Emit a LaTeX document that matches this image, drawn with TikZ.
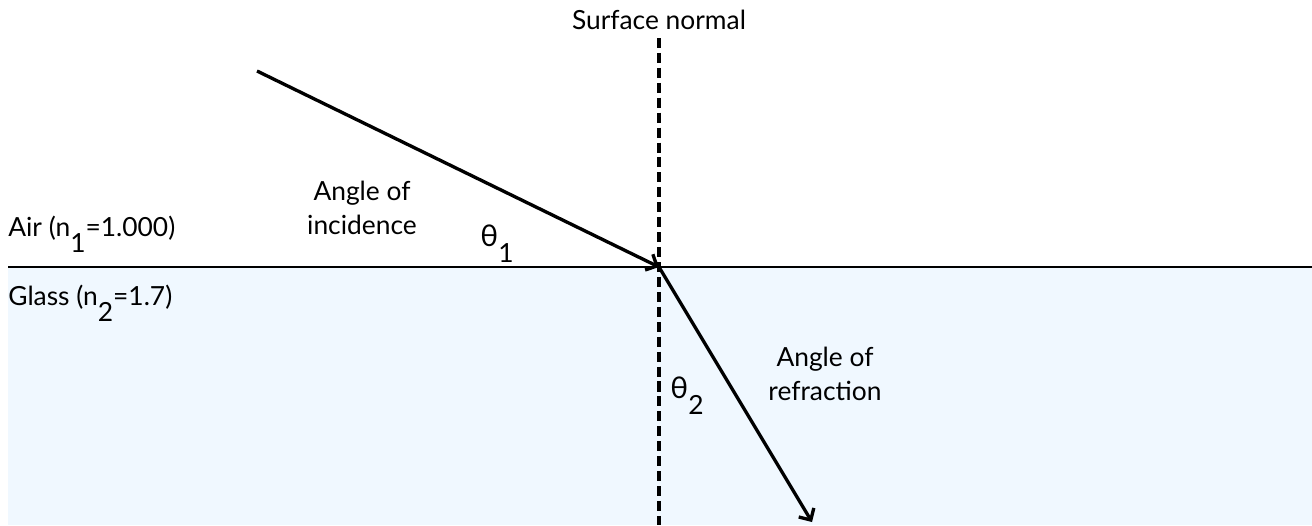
\documentclass[tikz,border=0pt]{standalone}
\usepackage{fontspec}
\setmainfont{Lato}
\usetikzlibrary{positioning,arrows.meta,calc}
\definecolor{glassblue}{RGB}{240,248,255}
\newcommand{\lowidx}[1]{\raisebox{-1.25ex}{#1}}

\begin{document}
\begin{tikzpicture}[
    x=0.02cm, y=-0.02cm,
    ray/.style={line width=1.9pt, -{Straight Barb[length=5pt,width=10pt,line width=1.9pt]}},
    normal/.style={line width=2.2pt, dash pattern=on 5.7pt off 2.8pt},
    lbl/.style={font=\fontsize{15}{19}\selectfont, inner sep=0pt, align=center},
    angle/.style={lbl, font=\fontsize{17}{20}\selectfont, anchor=base},
    >=Stealth
  ]
  \useasboundingbox (0,0) rectangle (1312,525);
  \fill[glassblue] (8,267) rectangle (1312,525);

  \coordinate (hit) at (659,267);
  \coordinate (src) at (257,71);
  \coordinate (dst) at (812,522);
  \coordinate (ntop) at (659,38);
  \coordinate (nbot) at (659,525);
  \coordinate (sl) at (8,267);
  \coordinate (sr) at (1312,267);

  \draw[line width=0.9pt] (sl) -- (sr);
  \draw[normal] (ntop) -- (nbot);
  \draw[ray] (src) -- (hit);
  \draw[ray] (hit) -- (dst);

  \node[lbl] (snorm) at (659,20) {Surface normal};
  \node[lbl, anchor=base west] (air) at (8,236) {Air (n\lowidx{1}=1.000)};
  \node[lbl, anchor=base west] (glass) at (8,305) {Glass (n\lowidx{2}=1.7)};
  \node[lbl] (inc) at (362,208) {Angle of\\incidence};
  \node[angle] (th1) at (497,246) {θ{\fontsize{15}{19}\selectfont\lowidx{1}}};
  \node[angle] (th2) at (687,398) {θ{\fontsize{15}{19}\selectfont\lowidx{2}}};
  \node[lbl] (refr) at (825,374) {Angle of\\refraction};
\end{tikzpicture}
\end{document}
